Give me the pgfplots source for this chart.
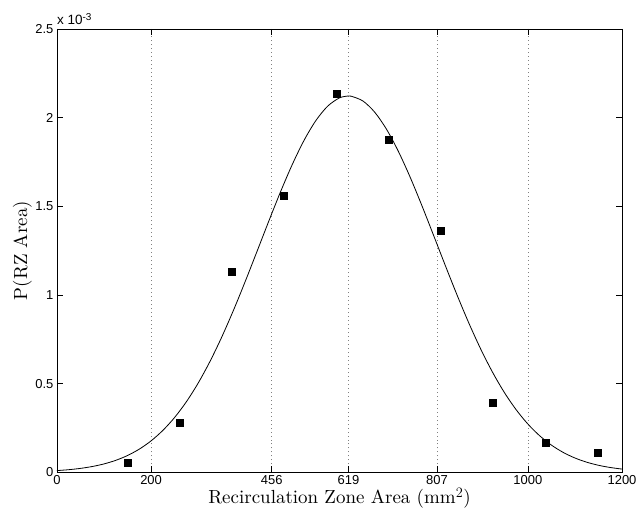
\documentclass[border=0pt]{standalone}
\usepackage{pgfplots}
\pgfplotsset{compat=1.18}
\usepackage{fontspec}
\newfontfamily\helv{Liberation Sans}
\newfontfamily\lmten{lmroman10-regular}[Extension=.otf]

\begin{document}
\begin{tikzpicture}[x=1pt,y=1pt]
\path[use as bounding box] (-57,-45) rectangle (580,473);
\begin{axis}[
    at={(0,0)}, anchor=south west,
    scale only axis, width=566pt, height=444pt,
    xmin=0, xmax=1200, ymin=0, ymax=2.5,
    xtick={0,200,456,619,807,1000,1200},
    xticklabels={0,200,456,619,807,1000,1200},
    ytick={0,0.5,1,1.5,2,2.5},
    yticklabels={0,0.5,1,1.5,2,2.5},
    tick align=inside, tick pos=both, major tick length=6pt,
    tick style={black, line width=0.6pt},
    ticklabel style={font=\helv\fontsize{13}{15}\selectfont},
    /pgf/number format/assume math mode=true,
    xmajorgrids,
    major grid style={gray, line width=0.6pt, dash pattern=on 0.8pt off 3.2pt},
    axis line style={black, line width=0.8pt},
    xlabel={Recirculation Zone Area (mm$^2$)},
    ylabel={P(RZ Area)},
    label style={font=\lmten\fontsize{19}{22}\selectfont},
    xlabel style={at={(axis description cs:0.5,-0.059)}, anchor=center},
    ylabel style={at={(axis description cs:-0.061,0.5)}, anchor=center},
    clip=false]
  \addplot[black, line width=0.8pt, smooth, mark=none] coordinates {
    (0,0.0094) (25,0.0144) (50,0.0218) (75,0.0323) (100,0.0470)
    (125,0.0672) (150,0.0945) (175,0.1305) (200,0.1771) (225,0.2361)
    (250,0.3092) (275,0.3978) (300,0.5030) (325,0.6247) (350,0.7623)
    (375,0.9140) (400,1.0767) (425,1.2461) (450,1.4166) (475,1.5825)
    (500,1.7368) (525,1.8727) (550,1.9838) (575,2.0647) (600,2.1112)
    (619,2.1220) (625,2.1209) (650,2.0934) (675,2.0299) (700,1.9339)
    (725,1.8101) (750,1.6646) (775,1.5039) (800,1.3349) (825,1.1642)
    (850,0.9975) (875,0.8397) (900,0.6944) (925,0.5643) (950,0.4504)
    (975,0.3533) (1000,0.2722) (1025,0.2061) (1050,0.1532) (1075,0.1120)
    (1100,0.0804) (1125,0.0567) (1150,0.0393) (1175,0.0268) (1200,0.0179)};
  \addplot[only marks, mark=square*, mark size=3.5pt, black] coordinates {
    (150.5,0.054) (261,0.280) (372,1.133) (481,1.560) (594,2.134)
    (704.5,1.875) (815.5,1.363) (926.4,0.394) (1037.4,0.167) (1148.3,0.109)};
  \node[anchor=south west, inner sep=0pt, font=\helv\fontsize{13.5}{15}\selectfont]
    at (rel axis cs:0,1) [yshift=4pt] {x 10\raisebox{0.55ex}{\fontsize{10}{10}\selectfont -3}};
\end{axis}
\end{tikzpicture}
\end{document}
